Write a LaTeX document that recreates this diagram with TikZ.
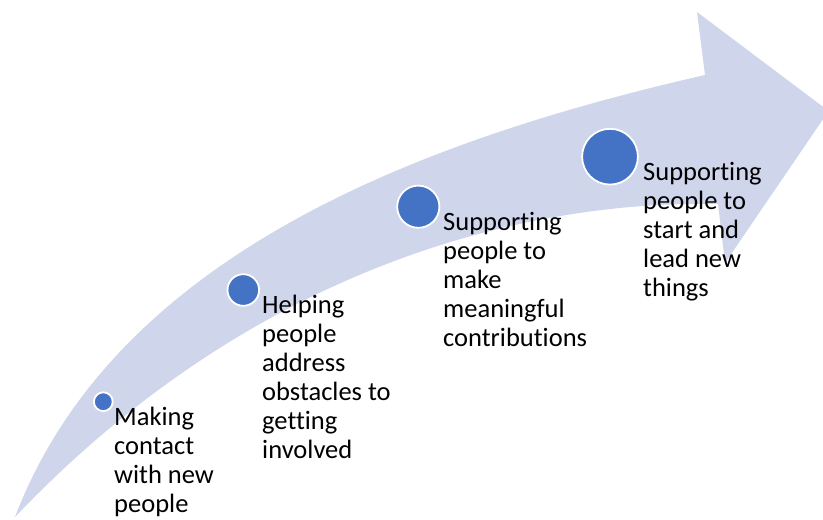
\documentclass[tikz,border=0pt]{standalone}
\usepackage{fontspec}
\setmainfont[Ligatures={NoCommon,NoContextual}]{Carlito}
\definecolor{band}{HTML}{CFD5EA}
\definecolor{dotblue}{HTML}{4472C4}
\begin{document}
\begin{tikzpicture}[x=1pt,y=-1pt,
  dot/.style={circle, fill=dotblue, draw=white, line width=1.8pt, inner sep=0pt, minimum size=#1},
  lbl/.style={anchor=base west, align=left, inner sep=0pt, font=\fontsize{26.5}{29}\selectfont}]
\useasboundingbox (0,0) rectangle (823,520);
\begin{scope}
\clip (0,0) rectangle (823,520);
\fill[band] (15,517) .. controls (115,255) and (420,140) .. (705,75)
  -- (697,12) -- (828.6,111) -- (725,263) -- (718,204)
  .. controls (520,200) and (250,270) .. (15,517) -- cycle;
\end{scope}
\node[dot=18.8pt] (c1) at (103.3,401.7) {};
\node[dot=31.6pt] (c2) at (243.3,290) {};
\node[dot=42.2pt] (c3) at (418.3,206.7) {};
\node[dot=55.8pt] (c4) at (610,156.7) {};
\node[lbl] (t1) at (114,512) {Making\\contact\\with new\\people};
\node[lbl] (t2) at (262,458) {Helping\\people\\address\\obstacles to\\getting\\involved};
\node[lbl] (t3) at (443,346) {Supporting\\people to\\make\\meaningful\\contributions};
\node[lbl] (t4) at (643,296) {Supporting\\people to\\start and\\lead new\\things};
\end{tikzpicture}
\end{document}
